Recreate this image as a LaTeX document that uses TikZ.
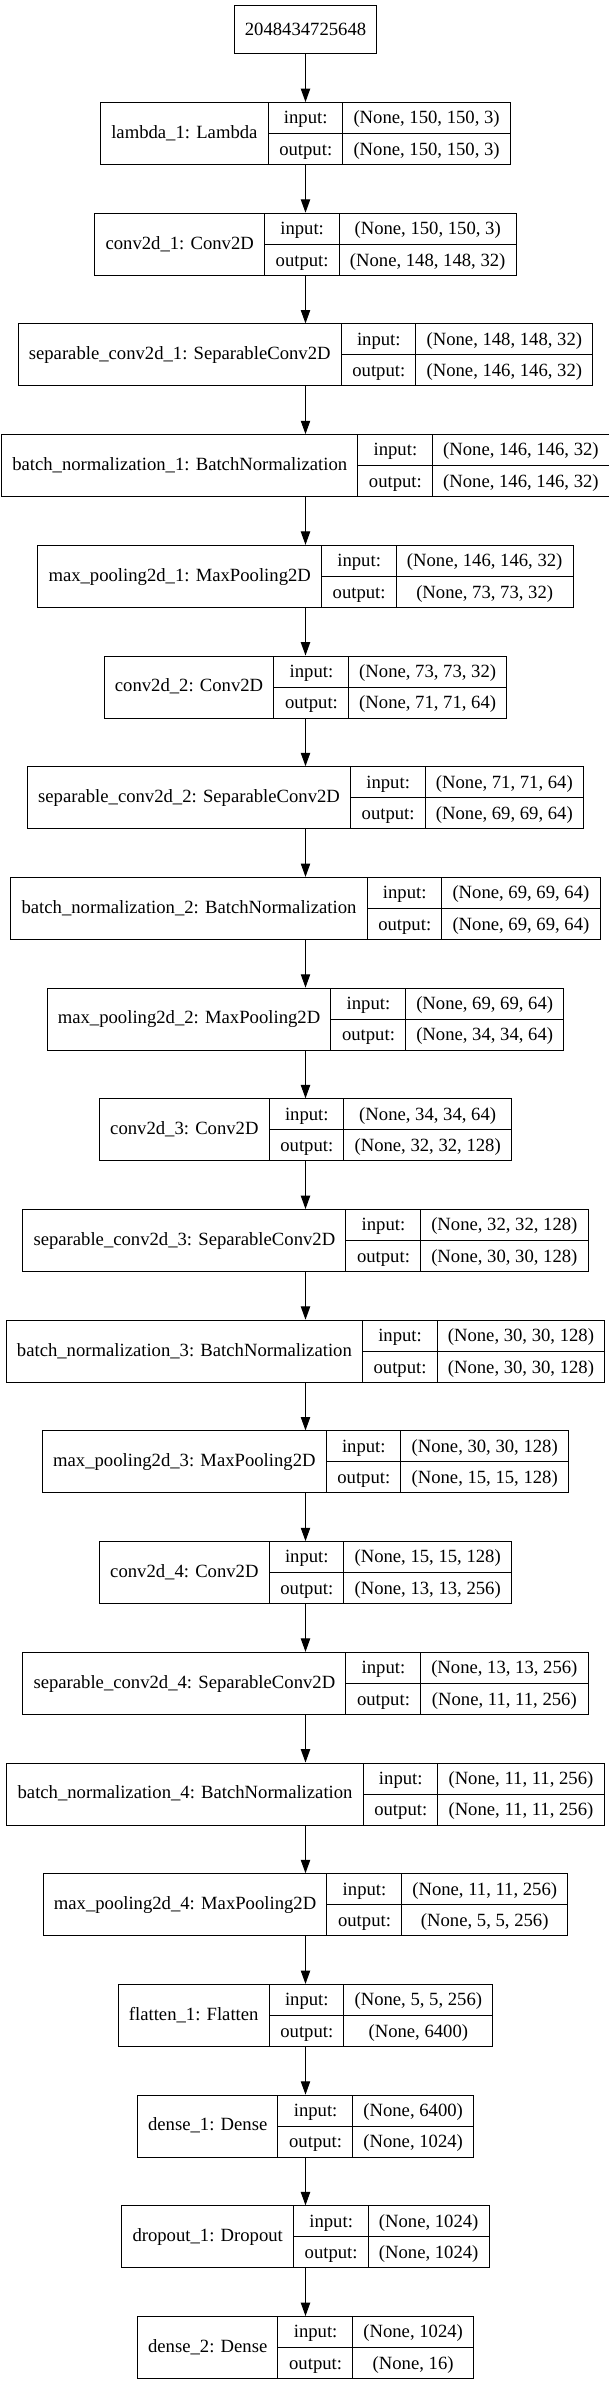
\documentclass[tikz,border=0pt]{standalone}
\usepackage{fontspec}
\setmainfont{Liberation Serif}
\usetikzlibrary{arrows.meta}

\setlength{\tabcolsep}{8pt}
\setlength{\arrayrulewidth}{0.75pt}
\renewcommand{\arraystretch}{1.3456}

% one record: name | input/output | shapes
\newcommand{\layerrec}[3]{%
\begin{tabular}{c|@{}c@{}}
#1 &
\begin{tabular}{c|c}
input: & #2 \\ \hline
output: & #3
\end{tabular}
\end{tabular}}

\tikzset{every picture/.style={line width=0.75pt}}
\tikzset{
  layerbox/.style={draw, inner sep=0pt, font=\fontsize{14}{17}\selectfont},
  inbox/.style={draw, inner xsep=8pt, inner ysep=0pt, minimum height=36pt, font=\fontsize{14}{17}\selectfont},
  flow/.style={-{Triangle[length=10pt,width=7pt]}}
}

\begin{document}
\begin{tikzpicture}[x=0.75pt,y=0.75pt,yscale=-1,xscale=1]
\path[fill=white] (0,0) rectangle (608,2384);
\useasboundingbox (0,0) rectangle (608,2384);

% Input Node
\node [inbox] (inp) at (305.5,29.5) {2048434725648};

% Layer Nodes
\node [layerbox] (lambda1) at (305.5,133.5) {\layerrec{lambda\_1: Lambda}{(None, 150, 150, 3)}{(None, 150, 150, 3)}};
\node [layerbox] (conv1) at (305.5,244.2) {\layerrec{conv2d\_1: Conv2D}{(None, 150, 150, 3)}{(None, 148, 148, 32)}};
\node [layerbox] (sep1) at (305.5,354.9) {\layerrec{separable\_conv2d\_1: SeparableConv2D}{(None, 148, 148, 32)}{(None, 146, 146, 32)}};
\node [layerbox] (bn1) at (305.5,465.6) {\layerrec{batch\_normalization\_1: BatchNormalization}{(None, 146, 146, 32)}{(None, 146, 146, 32)}};
\node [layerbox] (pool1) at (305.5,576.3) {\layerrec{max\_pooling2d\_1: MaxPooling2D}{(None, 146, 146, 32)}{(None, 73, 73, 32)}};
\node [layerbox] (conv2) at (305.5,687.0) {\layerrec{conv2d\_2: Conv2D}{(None, 73, 73, 32)}{(None, 71, 71, 64)}};
\node [layerbox] (sep2) at (305.5,797.7) {\layerrec{separable\_conv2d\_2: SeparableConv2D}{(None, 71, 71, 64)}{(None, 69, 69, 64)}};
\node [layerbox] (bn2) at (305.5,908.4) {\layerrec{batch\_normalization\_2: BatchNormalization}{(None, 69, 69, 64)}{(None, 69, 69, 64)}};
\node [layerbox] (pool2) at (305.5,1019.1) {\layerrec{max\_pooling2d\_2: MaxPooling2D}{(None, 69, 69, 64)}{(None, 34, 34, 64)}};
\node [layerbox] (conv3) at (305.5,1129.8) {\layerrec{conv2d\_3: Conv2D}{(None, 34, 34, 64)}{(None, 32, 32, 128)}};
\node [layerbox] (sep3) at (305.5,1240.5) {\layerrec{separable\_conv2d\_3: SeparableConv2D}{(None, 32, 32, 128)}{(None, 30, 30, 128)}};
\node [layerbox] (bn3) at (305.5,1351.2) {\layerrec{batch\_normalization\_3: BatchNormalization}{(None, 30, 30, 128)}{(None, 30, 30, 128)}};
\node [layerbox] (pool3) at (305.5,1461.9) {\layerrec{max\_pooling2d\_3: MaxPooling2D}{(None, 30, 30, 128)}{(None, 15, 15, 128)}};
\node [layerbox] (conv4) at (305.5,1572.6) {\layerrec{conv2d\_4: Conv2D}{(None, 15, 15, 128)}{(None, 13, 13, 256)}};
\node [layerbox] (sep4) at (305.5,1683.3) {\layerrec{separable\_conv2d\_4: SeparableConv2D}{(None, 13, 13, 256)}{(None, 11, 11, 256)}};
\node [layerbox] (bn4) at (305.5,1794.0) {\layerrec{batch\_normalization\_4: BatchNormalization}{(None, 11, 11, 256)}{(None, 11, 11, 256)}};
\node [layerbox] (pool4) at (305.5,1904.7) {\layerrec{max\_pooling2d\_4: MaxPooling2D}{(None, 11, 11, 256)}{(None, 5, 5, 256)}};
\node [layerbox] (flat1) at (305.5,2015.4) {\layerrec{flatten\_1: Flatten}{(None, 5, 5, 256)}{(None, 6400)}};
\node [layerbox] (dense1) at (305.5,2126.1) {\layerrec{dense\_1: Dense}{(None, 6400)}{(None, 1024)}};
\node [layerbox] (drop1) at (305.5,2236.8) {\layerrec{dropout\_1: Dropout}{(None, 1024)}{(None, 1024)}};
\node [layerbox] (dense2) at (305.5,2347.5) {\layerrec{dense\_2: Dense}{(None, 1024)}{(None, 16)}};

% Straight Lines
\draw [flow] (inp.south) -- (lambda1.north);
\draw [flow] (lambda1.south) -- (conv1.north);
\draw [flow] (conv1.south) -- (sep1.north);
\draw [flow] (sep1.south) -- (bn1.north);
\draw [flow] (bn1.south) -- (pool1.north);
\draw [flow] (pool1.south) -- (conv2.north);
\draw [flow] (conv2.south) -- (sep2.north);
\draw [flow] (sep2.south) -- (bn2.north);
\draw [flow] (bn2.south) -- (pool2.north);
\draw [flow] (pool2.south) -- (conv3.north);
\draw [flow] (conv3.south) -- (sep3.north);
\draw [flow] (sep3.south) -- (bn3.north);
\draw [flow] (bn3.south) -- (pool3.north);
\draw [flow] (pool3.south) -- (conv4.north);
\draw [flow] (conv4.south) -- (sep4.north);
\draw [flow] (sep4.south) -- (bn4.north);
\draw [flow] (bn4.south) -- (pool4.north);
\draw [flow] (pool4.south) -- (flat1.north);
\draw [flow] (flat1.south) -- (dense1.north);
\draw [flow] (dense1.south) -- (drop1.north);
\draw [flow] (drop1.south) -- (dense2.north);

\end{tikzpicture}
\end{document}
